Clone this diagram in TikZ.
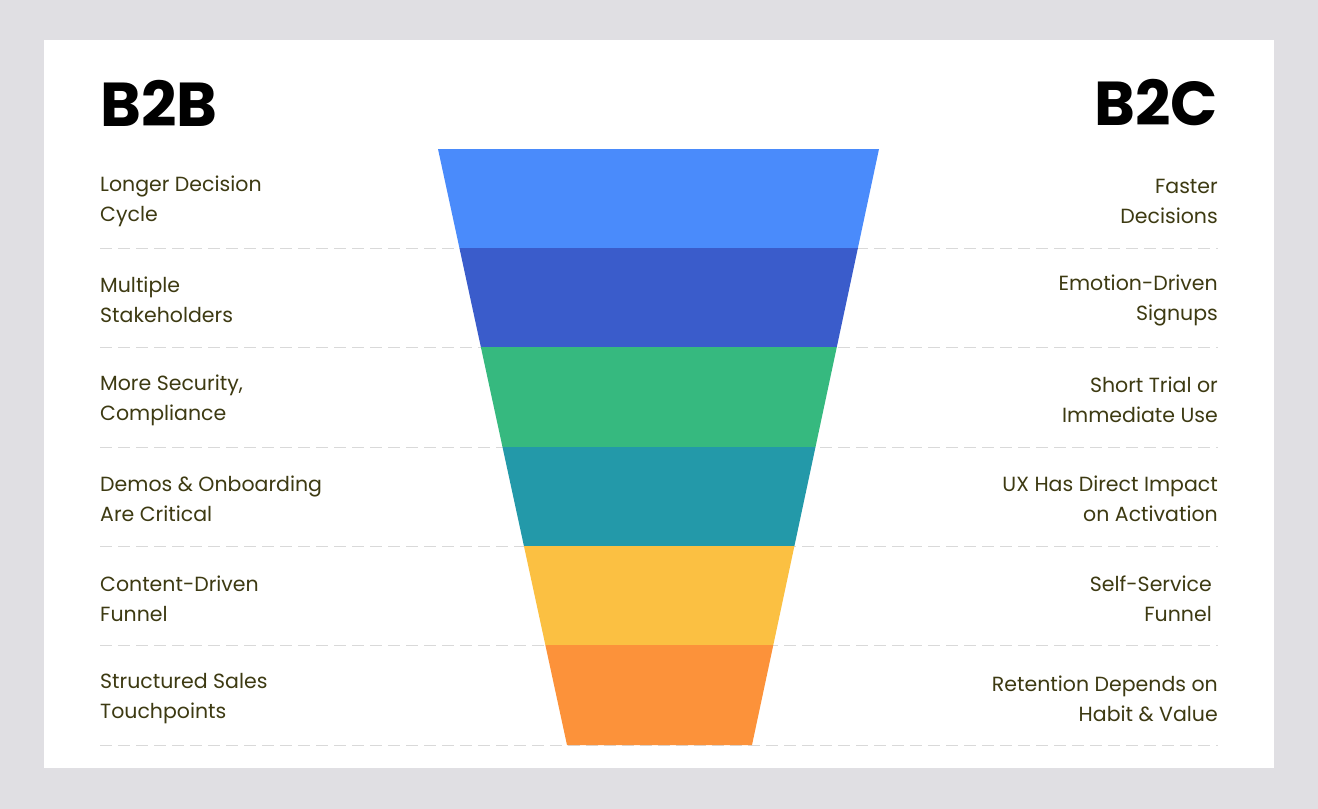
\documentclass[tikz,border=0pt]{standalone}
\usepackage{fontspec}
\setmainfont{Poppins}
\newfontfamily\headfont{Poppins}
\definecolor{bg}{HTML}{E0DFE3}
\definecolor{txt}{HTML}{3D3A12}
\definecolor{cA}{HTML}{4A8BFB}
\definecolor{cB}{HTML}{3A5CCB}
\definecolor{cC}{HTML}{36B97F}
\definecolor{cD}{HTML}{2399A9}
\definecolor{cE}{HTML}{FBC042}
\definecolor{cF}{HTML}{FC923A}
\begin{document}
\begin{tikzpicture}[x=1pt,y=-1pt,
  lbl/.style={text=txt,font=\fontsize{20.5}{30}\selectfont,align=left,anchor=west,inner sep=0pt},
  rbl/.style={text=txt,font=\fontsize{20.5}{30}\selectfont,align=right,anchor=east,inner sep=0pt},
  head/.style={font=\headfont\bfseries\fontsize{62}{64}\selectfont,inner sep=0pt},
  sep/.style={draw=gray!30,dashed,dash pattern=on 12pt off 6pt,line width=0.8pt}]
\fill[bg] (0,0) rectangle (1318,809);
\fill[white] (44,40) rectangle (1274,768);
\node[head,anchor=west] (b2b) at (100,103) {B2B};
\node[head,anchor=east] (b2c) at (1218,103) {B2C};
\foreach \y in {248,347,447,546,645,745} \draw[sep] (100,\y) -- (1218,\y);
\foreach \ya/\yb/\c in {149/248/cA,248/347/cB,347/447/cC,447/546/cD,546/645/cE,645/745/cF}{
  \fill[\c] ({438+(\ya-149)*0.21644},\ya) -- ({879-(\ya-149)*0.21309},\ya) -- ({879-(\yb-149)*0.21309},\yb) -- ({438+(\yb-149)*0.21644},\yb) -- cycle;}
\node[lbl] (l1) at (100,201) {Longer Decision\\Cycle};
\node[lbl] (l2) at (100,300) {Multiple\\Stakeholders};
\node[lbl] (l3) at (100,400) {More Security,\\Compliance};
\node[lbl] (l4) at (100,499) {Demos \& Onboarding\\Are Critical};
\node[lbl] (l5) at (100,599) {Content-Driven\\Funnel};
\node[lbl] (l6) at (100,699) {Structured Sales\\Touchpoints};
\node[rbl] (r1) at (1218,201) {Faster\\Decisions};
\node[rbl] (r2) at (1218,300) {Emotion-Driven\\Signups};
\node[rbl] (r3) at (1218,400) {Short Trial or\\Immediate Use};
\node[rbl] (r4) at (1218,499) {UX Has Direct Impact\\on Activation};
\node[rbl] (r5) at (1212,599) {Self-Service\\Funnel};
\node[rbl] (r6) at (1218,699) {Retention Depends on\\Habit \& Value};
\end{tikzpicture}
\end{document}
